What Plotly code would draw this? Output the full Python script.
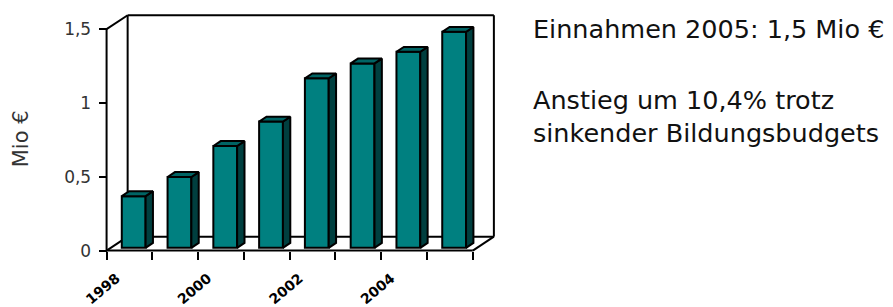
import plotly.graph_objects as go

# ---- data ----
years = ["1998", "1999", "2000", "2001", "2002", "2003", "2004", "2005"]
values = [0.35, 0.48, 0.69, 0.855, 1.148, 1.249, 1.328, 1.463]
label_years = ["1998", "2000", "2002", "2004"]
y_tickvals = [0, 0.5, 1, 1.5]
y_ticktext = ["0", "0,5", "1", "1,5"]
note_1 = "Einnahmen 2005: 1,5 Mio €"
note_2 = "Anstieg um 10,4% trotz<br>sinkender Bildungsbudgets"
y_title = "Mio €"

# ---- geometry / style ----
OFF = 8                      # browser body margin
W, H = 893 - OFF, 307 - OFF
X0PX, SX = 107.0 - OFF, 45.68    # pixel of x=-0.5, px per category
Y0PX, SY = 251.0 - OFF, 148.0    # pixel of y=0, px per unit
XR = [-0.6, 8.05]
YR = [-0.05, 1.63]
DX, DY = 0.46, 0.0946      # depth offset of the 3D box (data units)
F0, FD = 0.2, 0.35         # bar front depth fraction, bar depth fraction
BW = 0.52
FRONT, SIDE, TOP = "#008080", "#003f3f", "#006464"
FONT = "DejaVu Sans"

l = X0PX - (-0.5 - XR[0]) * SX
pw = (XR[1] - XR[0]) * SX
t = Y0PX - YR[1] * SY
ph = (YR[1] - YR[0]) * SY
r = W - l - pw
b = H - t - ph

def px_x(px):
    return (px - OFF - l) / pw

def px_y(py):
    return 1 - (py - OFF - t) / ph

n = len(values)
xs = list(range(n))

fig = go.Figure()

# front faces
fig.add_trace(go.Bar(
    x=[i + F0 * DX for i in xs], y=values, base=[F0 * DY] * n, width=BW,
    marker=dict(color=FRONT, line=dict(color="black", width=2)),
    hoverinfo="skip", showlegend=False))

# side and top faces
side_x, side_y, top_x, top_y = [], [], [], []
ddx, ddy = FD * DX, FD * DY
for i, v in zip(xs, values):
    xc = i + F0 * DX
    xl, xr_ = xc - BW / 2, xc + BW / 2
    yb, yt = F0 * DY, F0 * DY + v
    side_x += [xr_, xr_, xr_ + ddx, xr_ + ddx, xr_, None]
    side_y += [yb, yt, yt + ddy, yb + ddy, yb, None]
    top_x += [xl, xr_, xr_ + ddx, xl + ddx, xl, None]
    top_y += [yt, yt, yt + ddy, yt + ddy, yt, None]

fig.add_trace(go.Scatter(x=side_x, y=side_y, mode="lines", fill="toself",
                         fillcolor=SIDE, line=dict(color="black", width=2),
                         hoverinfo="skip", showlegend=False))
fig.add_trace(go.Scatter(x=top_x, y=top_y, mode="lines", fill="toself",
                         fillcolor=TOP, line=dict(color="black", width=2),
                         hoverinfo="skip", showlegend=False))

# 3D box frame
x_left, x_right = -0.5, n - 0.5
y_top = 1.5
segs = [
    (x_left, 0, x_left, y_top),
    (x_left, y_top, x_left + DX, y_top + DY),
    (x_left + DX, y_top + DY, x_right + DX, y_top + DY),
    (x_right + DX, DY, x_right + DX, y_top + DY),
    (x_left + DX, DY, x_left + DX, y_top + DY),
    (x_left, 0, x_right, 0),
    (x_left + DX, DY, x_right + DX, DY),
    (x_left, 0, x_left + DX, DY),
    (x_right, 0, x_right + DX, DY),
]
for x0, y0, x1, y1 in segs:
    fig.add_shape(type="line", x0=x0, y0=y0, x1=x1, y1=y1, xref="x", yref="y",
                  line=dict(color="black", width=2), layer="below")

ypos = (-0.5 - XR[0]) / (XR[1] - XR[0])
xpos = (0 - YR[0]) / (YR[1] - YR[0])

fig.update_layout(
    width=W, height=H, autosize=False,
    margin=dict(l=l, r=r, t=t, b=b, pad=0, autoexpand=False),
    paper_bgcolor="white", plot_bgcolor="rgba(0,0,0,0)",
    font=dict(family=FONT, color="#333333"),
    showlegend=False,
    xaxis=dict(range=XR, anchor="free", position=xpos, showgrid=False,
               zeroline=False, showline=False, automargin=False,
               tickvals=[i - 0.5 for i in range(n + 1)],
               ticktext=[""] * (n + 1), ticks="outside", ticklen=8,
               tickwidth=2, tickcolor="black", showticklabels=False),
    xaxis2=dict(range=XR, overlaying="x", anchor="free", position=xpos,
                side="bottom", showgrid=False, zeroline=False, showline=False,
                automargin=False,
                tickvals=[years.index(yv) for yv in label_years],
                ticktext=label_years, ticks="", tickangle=-40,
                tickfont=dict(family=FONT, size=14, color="black", weight="bold"),
                ticklabelstandoff=16, ticklabelshift=-13),
    yaxis=dict(range=YR, anchor="free", position=ypos, showgrid=False,
               zeroline=False, showline=False, automargin=False,
               tickvals=y_tickvals,
               ticktext=y_ticktext, ticks="outside", ticklen=8, tickwidth=2,
               tickcolor="black", tickfont=dict(family=FONT, size=17, color="#333333"),
               ticklabelstandoff=4),
)
# dummy trace to activate xaxis2
fig.add_trace(go.Scatter(x=[0], y=[0], xaxis="x2", mode="markers",
                         marker=dict(opacity=0), hoverinfo="skip", showlegend=False))

fig.add_annotation(text=y_title, xref="paper", yref="paper",
                   x=px_x(22), y=px_y(139), textangle=-90, showarrow=False,
                   font=dict(family=FONT, size=21, color="#333333"),
                   xanchor="center", yanchor="middle", borderpad=0)
fig.add_annotation(text=note_1, xref="paper", yref="paper",
                   x=px_x(530), y=px_y(29), showarrow=False, align="left",
                   font=dict(family=FONT, size=25.5, color="#111111"),
                   xanchor="left", yanchor="middle")
fig.add_annotation(text=note_2, xref="paper", yref="paper",
                   x=px_x(530), y=px_y(117), showarrow=False, align="left",
                   font=dict(family=FONT, size=25.5, color="#111111"),
                   xanchor="left", yanchor="middle")

fig.write_html("out.html")
